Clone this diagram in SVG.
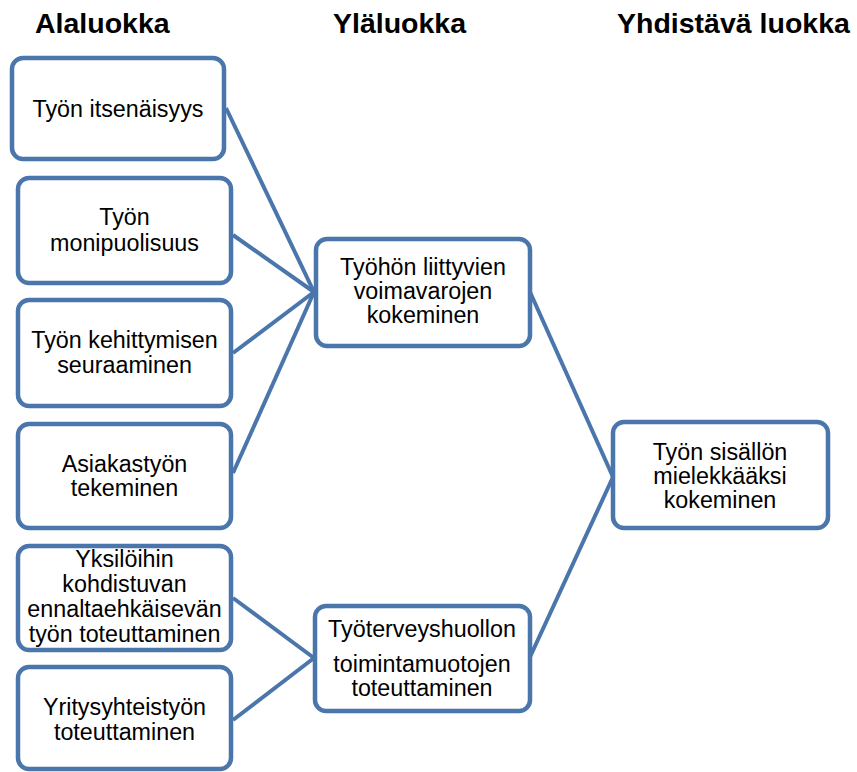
<svg xmlns="http://www.w3.org/2000/svg" width="857" height="772" viewBox="0 0 857 772">
<style>
.box{fill:#fff;stroke:#4A76AB;stroke-width:4.5}
.hd{font-family:"Liberation Sans",Arial,sans-serif;font-weight:bold;font-size:28.5px;fill:#000}
.t{font-family:"Liberation Sans",Arial,sans-serif;font-size:23.3px;fill:#000;text-anchor:middle}
.c{stroke:#4A76AB;stroke-width:4;fill:none}
</style>
<rect width="857" height="772" fill="#fff"/>
<g id="headers">
<text class="hd" x="35" y="33">Alaluokka</text>
<text class="hd" x="333" y="33">Yläluokka</text>
<text class="hd" x="617" y="33">Yhdistävä luokka</text>
</g>
<g id="connectors">
<line class="c" x1="226" y1="108" x2="314" y2="292"/>
<line class="c" x1="233" y1="235" x2="314" y2="292"/>
<line class="c" x1="233" y1="353" x2="314" y2="292"/>
<line class="c" x1="233" y1="473" x2="314" y2="292"/>
<line class="c" x1="233" y1="598" x2="314" y2="658"/>
<line class="c" x1="233" y1="720" x2="314" y2="658"/>
<line class="c" x1="530" y1="292" x2="613" y2="477"/>
<line class="c" x1="530" y1="657" x2="613" y2="477"/>
</g>
<g id="n1"><rect class="box" x="12" y="58" width="212" height="101" rx="11"/><text class="t" x="118" y="117">Työn itsenäisyys</text></g>
<g id="n2"><rect class="box" x="18" y="178" width="213" height="105" rx="11"/><text class="t" x="124.5" y="225">Työn</text><text class="t" x="124.5" y="251">monipuolisuus</text></g>
<g id="n3"><rect class="box" x="18" y="300" width="213" height="106" rx="11"/><text class="t" x="124.5" y="348">Työn kehittymisen</text><text class="t" x="124.5" y="373">seuraaminen</text></g>
<g id="n4"><rect class="box" x="18" y="424" width="213" height="104" rx="11"/><text class="t" x="124.5" y="472">Asiakastyön</text><text class="t" x="124.5" y="496">tekeminen</text></g>
<g id="n5"><rect class="box" x="18" y="546" width="213" height="104" rx="11"/><text class="t" x="124.5" y="567">Yksilöihin</text><text class="t" x="124.5" y="592">kohdistuvan</text><text class="t" x="124.5" y="617">ennaltaehkäisevän</text><text class="t" x="124.5" y="642">työn toteuttaminen</text></g>
<g id="n6"><rect class="box" x="18" y="667" width="213" height="102" rx="11"/><text class="t" x="124.5" y="715">Yritysyhteistyön</text><text class="t" x="124.5" y="740">toteuttaminen</text></g>
<g id="m1"><rect class="box" x="316" y="239" width="214" height="107" rx="11"/><text class="t" x="423" y="275">Työhön liittyvien</text><text class="t" x="423" y="299">voimavarojen</text><text class="t" x="423" y="323">kokeminen</text></g>
<g id="m2"><rect class="box" x="315" y="606" width="215" height="105" rx="11"/><text class="t" x="422" y="637">Työterveyshuollon</text><text class="t" x="422" y="672">toimintamuotojen</text><text class="t" x="422" y="696">toteuttaminen</text></g>
<g id="r1"><rect class="box" x="613" y="422" width="215" height="106" rx="11"/><text class="t" x="720" y="460">Työn sisällön</text><text class="t" x="720" y="484">mielekkääksi</text><text class="t" x="720" y="508">kokeminen</text></g>
</svg>
